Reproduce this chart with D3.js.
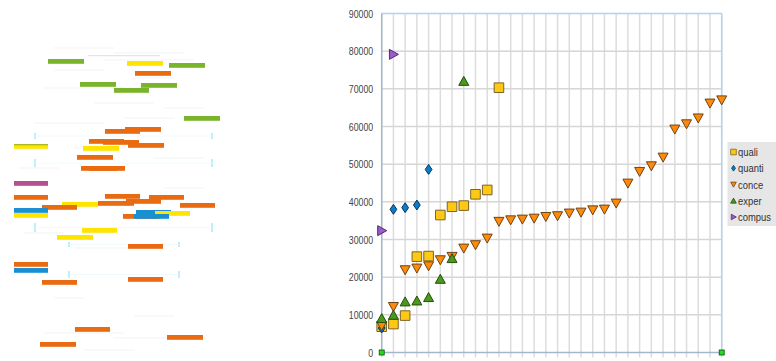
<!DOCTYPE html>
<html><head><meta charset="utf-8">
<script src="https://cdn.jsdelivr.net/npm/d3@7"></script>
<style>html,body{margin:0;padding:0;background:#fff;}svg{display:block;}</style>
</head><body>
<svg id="c" width="776" height="361"></svg>
<script>
// ---- scatter data ----
const seriesNames = ["quali","quanti","conce","exper","compus"];
const quali  = [6850,7550,9800,25450,25600,36500,38700,39000,42000,43150,70300];
const quanti = [6500,38000,38450,39150,48600];
const conce  = [7100,12150,21900,22350,22950,24550,25450,27650,28550,30300,34750,35150,35350,35600,36050,36240,36950,37200,37800,38000,39600,44900,48000,49500,51800,59250,60650,62200,66150,67000];
const exper  = [9080,9950,13500,13750,14650,19500,25000,72050];
const compus = [32350,79150];
const yTicks = [0,10000,20000,30000,40000,50000,60000,70000,80000,90000];
const categoryCount = 30;

// ---- left gantt-like image data ----
const ganttStart = [34,113,155,121,66,100,127,170,91,111,75,89,114,0,69,63,67,75,0,0,91,135,84,112,48,28,166,0,122,109,0,141,120,68,43,114,0,0,114,28,61,153,26];
const ganttLen   = [36,36,36,36,36,35,36,36,35,36,35,36,36,34,36,36,36,36,34,34,35,35,36,35,36,35,35,34,35,36,34,35,35,35,36,35,34,34,35,35,35,36,36];
const ganttRow   = [11,13,15,23,34,40,35,68,81,79,91,92,95,96,98,107,118,118,133,147,146,147,153,151,154,157,155,160,162,166,165,163,166,180,187,196,214,220,229,232,279,287,294];
const ganttType  = ["g","y","g","o","g","g","g","g","o","o","o","o","o","y","y","o","o","o","m","o","o","o","o","o","y","o","o","b","b","o","y","y","b","y","y","o","o","b","o","o","o","o","o"];

const svg = d3.select("#c");
const narrow = "'Liberation Sans','Arial',sans-serif";

// ===== Gantt image =====
const gx = d3.scaleLinear().domain([0,206]).range([14,220]);
const gy = d3.scaleLinear().domain([0,300]).range([48,348]);
const gColor = {g:"#7ab32c", y:"#ffe400", o:"#ea6a12", b:"#1a90d2", m:"#b4508e"};

// faint texture lines
const faintRows = [0,5,12,22,30,40,55,60,70,75,100,110,120,140,170,185,200,250,268,285,290,302];
const faintStart= [40,100,90,40,120,30,80,150,110,20,60,140,5,150,120,10,60,40,120,30,100,70];
const faintLen  = [60,70,90,50,40,80,60,40,50,70,50,50,40,40,30,40,60,30,40,80,60,50];
const gG = svg.append("g");
gG.selectAll("line.f").data(faintRows).join("line")
  .attr("x1",(d,i)=>gx(faintStart[i])).attr("x2",(d,i)=>gx(faintStart[i]+faintLen[i]))
  .attr("y1",d=>gy(d)).attr("y2",d=>gy(d))
  .attr("stroke","#f3f3f3").attr("stroke-width",1);
gG.append("line").attr("x1",gx(74)).attr("x2",gx(146)).attr("y1",gy(7.7)).attr("y2",gy(7.7))
  .attr("stroke","#d4e0f4").attr("stroke-width",1);
// cyan bracket ticks
const brk = [[21,198,85,91],[21,198,111,119],[21,198,175,184],[55,165,194,199],[55,165,223,230]];
brk.forEach(b=>{
  [b[0],b[1]].forEach(xx=>{
    gG.append("line").attr("x1",gx(xx)).attr("x2",gx(xx)).attr("y1",gy(b[2])).attr("y2",gy(b[3]))
      .attr("stroke","#a6eaf6").attr("stroke-width",1.5);
  });
  gG.append("line").attr("x1",gx(b[0])).attr("x2",gx(b[1])).attr("y1",gy((b[2]+b[3])/2)).attr("y2",gy((b[2]+b[3])/2))
    .attr("stroke","#f0fafc").attr("stroke-width",1);
});
gG.selectAll("rect.bar").data(ganttStart).join("rect")
  .attr("x",(d,i)=>gx(d)).attr("width",(d,i)=>gx(d+ganttLen[i])-gx(d))
  .attr("y",(d,i)=>gy(ganttRow[i])).attr("height",4.8)
  .attr("fill",(d,i)=>gColor[ganttType[i]]);
gG.append("rect").attr("x",gx(0)).attr("width",gx(34)-gx(0)).attr("y",gy(96)).attr("height",1.3).attr("fill","#a8b820");

// ===== Scatter chart =====
const L=381.7, R=721.7, T=13.5, B=352.5;
const x = d3.scaleLinear().domain([0,categoryCount-1]).range([L,R]);
const y = d3.scaleLinear().domain([0,90000]).range([B,T]);

const grid = svg.append("g");
grid.selectAll("line.v").data(d3.range(categoryCount)).join("line")
  .attr("x1",d=>x(d)).attr("x2",d=>x(d)).attr("y1",T).attr("y2",B+5)
  .attr("stroke","#dcdcdc").attr("stroke-width",1.5);
grid.selectAll("line.h").data(yTicks.slice(1,-1)).join("line")
  .attr("x1",L).attr("x2",R).attr("y1",d=>y(d)).attr("y2",d=>y(d))
  .attr("stroke","#d6d6d6").attr("stroke-width",1.5);
grid.append("line").attr("x1",L).attr("x2",R).attr("y1",T).attr("y2",T).attr("stroke","#a9d4f2").attr("stroke-width",1.5);
grid.append("line").attr("x1",R).attr("x2",R).attr("y1",T).attr("y2",B).attr("stroke","#b4d4ee").attr("stroke-width",1.5);
grid.append("line").attr("x1",L).attr("x2",R).attr("y1",B).attr("y2",B).attr("stroke","#a4b8cc").attr("stroke-width",1.5);
grid.append("line").attr("x1",L).attr("x2",L).attr("y1",T).attr("y2",B).attr("stroke","#a4b8cc").attr("stroke-width",1.5);

// y axis labels via d3 axis (condensed by horizontal scaling)
const yAxis = d3.axisLeft(y).tickValues(yTicks).tickSize(0).tickPadding(0).tickFormat(d3.format("d"));
const ya = svg.append("g").attr("transform",`translate(${L-8.5},0)`).call(yAxis);
ya.select(".domain").remove();
ya.selectAll("text").attr("x",0).attr("transform","scale(0.8,1)")
  .attr("font-family",narrow).attr("font-size",11).attr("fill","#444");

// marker shapes
const styles = {
  quali:  {fill:"#ffc814", stroke:"#7a6428"},
  quanti: {fill:"#0a7ccc", stroke:"#06335a"},
  conce:  {fill:"#ff8a0a", stroke:"#6a4418"},
  exper:  {fill:"#4a981c", stroke:"#24500c"},
  compus: {fill:"#9a5ccc", stroke:"#4e2c6e"}
};
function shape(name, s){
  if(name==="quali") return `M${-s},${-s}h${2*s}v${2*s}h${-2*s}Z`;
  if(name==="quanti") return `M0,${-s*1.1}L${s*0.75},0L0,${s*1.1}L${-s*0.75},0Z`;
  if(name==="conce") return `M${-s},${-s*0.85}L${s},${-s*0.85}L0,${s*0.95}Z`;
  if(name==="exper") return `M${-s},${s*0.85}L${s},${s*0.85}L0,${-s*0.95}Z`;
  return `M${-s*0.8},${-s}L${s},0L${-s*0.8},${s}Z`;
}
const sizes = {quali:4.8, quanti:4.5, conce:5, exper:5, compus:5};
const dataMap = {quali, quanti, conce, exper, compus};
const mg = svg.append("g");
seriesNames.forEach(n=>{
  mg.selectAll(null).data(dataMap[n]).join("path")
    .attr("transform",(d,i)=>`translate(${x(i)},${y(d)})`)
    .attr("d",shape(n,sizes[n]))
    .attr("fill",styles[n].fill).attr("stroke",styles[n].stroke).attr("stroke-width",1)
    .attr("stroke-linejoin","round");
});
mg.selectAll("rect.end").data([0,categoryCount-1]).join("rect")
  .attr("x",d=>x(d)-2.5).attr("y",B-2.5).attr("width",5).attr("height",5)
  .attr("fill","#22dd22").attr("stroke","#0a4a0a").attr("stroke-width",0.8);

// legend
const lg = svg.append("g");
lg.append("rect").attr("x",727.5).attr("y",142).attr("width",60).attr("height",84).attr("fill","#e6e6e6");
const ly = d3.scalePoint().domain(seriesNames).range([152,217]);
seriesNames.forEach(n=>{
  lg.append("path").attr("transform",`translate(733.5,${ly(n)})`).attr("d",shape(n,n==="quanti"?2.6:2.8))
    .attr("fill",styles[n].fill).attr("stroke",styles[n].stroke).attr("stroke-width",0.8);
  lg.append("text").attr("transform",`translate(738,${ly(n)}) scale(0.82,1)`).attr("dy","0.35em")
    .attr("font-family",narrow).attr("font-size",11.5).attr("fill","#333").text(n);
});
</script>
</body></html>
